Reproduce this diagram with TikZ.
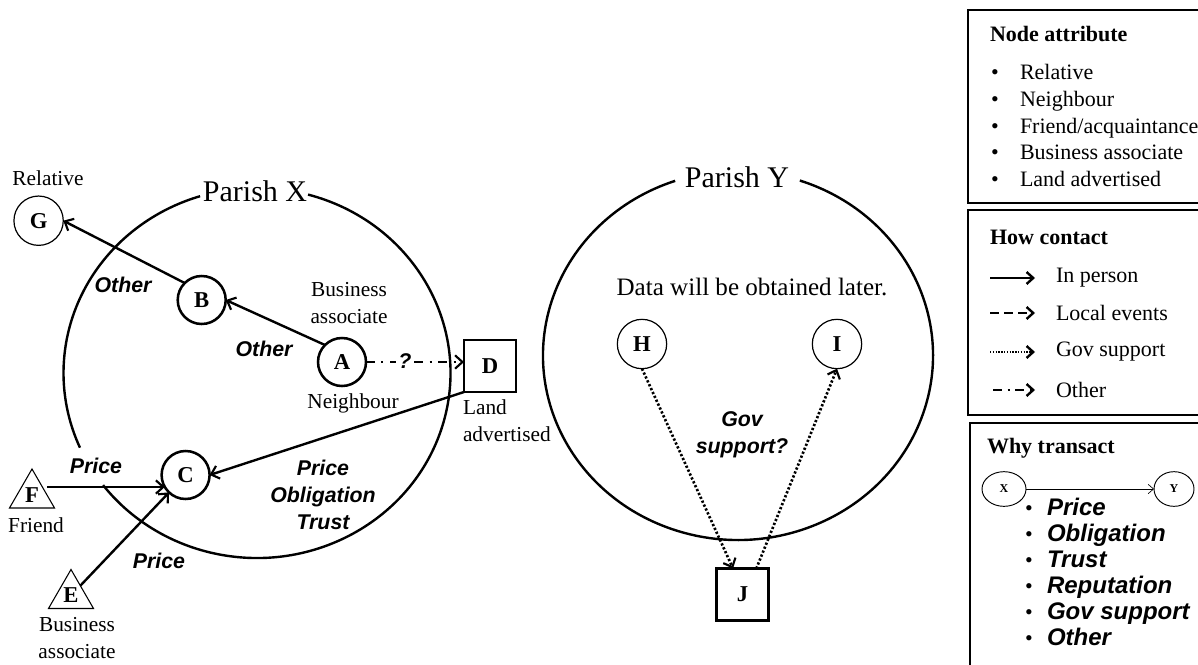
\documentclass[tikz,border=0pt]{standalone}
\usepackage{fontspec}
\setmainfont{Liberation Serif}
\newfontfamily\labfont{Liberation Sans}
\usetikzlibrary{arrows.meta,shapes.geometric}

\begin{document}
\begin{tikzpicture}[x=0.75pt,y=-0.75pt,
  every node/.style={inner sep=0pt, outer sep=0pt},
  lbl/.style={font=\fontsize{16}{20}\selectfont, align=center},
  big/.style={font=\fontsize{22.5}{24}\selectfont},
  note/.style={font=\fontsize{18.8}{22}\selectfont},
  reason/.style={font=\labfont\bfseries\itshape\fontsize{16}{20.5}\selectfont, align=center},
  lgd/.style={font=\fontsize{16.5}{19}\selectfont, anchor=west},
  lgditem/.style={font=\fontsize{16.5}{19}\selectfont, anchor=base west},
  lgdhead/.style={font=\bfseries\fontsize{16.5}{19}\selectfont, anchor=west},
  lgdreason/.style={font=\labfont\bfseries\itshape\fontsize{18}{20}\selectfont, anchor=base west},
  bul/.style={font=\fontsize{16.5}{19}\selectfont, anchor=base},
  letter/.style={font=\bfseries\fontsize{17}{17}\selectfont},
  actor/.style={circle, draw, line width=1.9pt, minimum size=36pt, letter},
  contact/.style={circle, draw, line width=0.9pt, minimum size=37pt, letter},
  landbox/.style={rectangle, draw, line width=1.9pt, minimum size=39pt, letter},
  outsider/.style={regular polygon, regular polygon sides=3, draw, line width=0.8pt, minimum size=39pt, letter},
  smallnode/.style={ellipse, draw, line width=0.7pt, font=\bfseries\fontsize{9}{9}\selectfont},
  parish/.style={line width=1.8pt},
  frame/.style={line width=1.1pt},
  tip/.style={-{Straight Barb[length=5.5pt,width=10pt,line width=1.6pt]}},
  inperson/.style={line width=1.8pt, tip},
  othertie/.style={line width=1.8pt, tip, dash pattern=on 6.5pt off 5pt on 1.6pt off 5pt},
  govtie/.style={line width=2pt, tip, dash pattern=on 1.7pt off 1.5pt},
  keyin/.style={line width=1.6pt, -{Straight Barb[length=5pt,width=9pt,line width=1.8pt]}},
]
\useasboundingbox (0,0) rectangle (1198,664);
\clip (0,0) rectangle (1198,664);

% ---------- Parish X ----------
\draw[parish] (257,373) ++(-74.7:193.5 and 185)
  arc[start angle=-74.7, end angle=142.7, x radius=193.5, y radius=185];
\draw[parish] (257,373) ++(156.2:193.5 and 185)
  arc[start angle=156.2, end angle=252.9, x radius=193.5, y radius=185];
\node[big] (px) at (255,191) {Parish X};

\node[contact] (G) at (38.6,220.7) {G};
\node[lbl] (relG) at (48,178) {Relative};
\node[actor] (B) at (201.7,300) {B};
\node[actor] (A) at (342,362) {A};
\node[lbl] (bizA) at (349,303) {Business\\associate};
\node[lbl] (nbA) at (353,403) {Neighbour};
\node[actor] (C) at (185.6,475) {C};
\node[landbox] (D) at (490,366) {D};
\node[lbl, align=left, anchor=north west] (landD) at (463,400) {Land\\advertised};
\node[outsider] (F) at (32,495) {F};
\node[lbl] (frF) at (36,525) {Friend};
\node[outsider] (E) at (71,595.5) {E};
\node[lbl] (bizE) at (77,638) {Business\\associate};

% ties inside and around Parish X
\draw[inperson] (B.north west) -- (G.east);
\draw[inperson] (A.north west) -- (B.east);
\draw[othertie] (A.east) -- (A.east -| D.west);
\node[reason, fill=white, inner sep=2pt] (qAD) at (405,361.5) {?};
\draw[inperson] (D.south west) -- (C.east);
\draw[inperson] (F.east |- C.210) -- (C.210);
\draw[inperson] (E) -- (C);

\node[reason] (oBG) at (123,285) {Other};
\node[reason] (oAB) at (264,349) {Other};
\node[reason] (pFC) at (96,466) {Price};
\node[reason] (pDC) at (323,495) {Price\\Obligation\\Trust};
\node[reason] (pEC) at (159,561) {Price};

% ---------- Parish Y ----------
\draw[parish] (738,355.5) ++(-71.5:195 and 184.5)
  arc[start angle=-71.5, end angle=251.2, x radius=195, y radius=184.5];
\node[big] (py) at (737,177) {Parish Y};
\node[note] (later) at (752,287) {Data will be obtained later.};

\node[contact] (H) at (642,344) {H};
\node[contact] (I) at (837,344) {I};
\node[landbox] (J) at (742.5,594.5) {J};
\draw[govtie] (H.south) -- (J.110.7);
\draw[govtie] (J.62) -- (I.south);
\node[reason] (gov) at (742,435) {Gov\\support?};

% ---------- Legend: node attribute ----------
\draw[frame] (968,10) rectangle (1215,203);
\node[lgdhead] (hNA) at (990,34) {Node attribute};
\foreach \y/\t [count=\k] in {73/Relative,100/Neighbour,127/{Friend/acquaintance},153/Business associate,180/Land advertised}{
  \node[bul] (na\k b) at (995,\y+6) {\textbullet};
  \node[lgditem] (na\k) at (1020,\y+6) {\t};
}

% ---------- Legend: how contact ----------
\draw[frame] (968,210) rectangle (1215,415);
\node[lgdhead] (hHC) at (990,237) {How contact};
\coordinate (k1s) at (990,278); \coordinate (k1e) at (1035,278);
\coordinate (k2s) at (990,313); \coordinate (k2e) at (1035,313);
\coordinate (k3s) at (990,352); \coordinate (k3e) at (1035,352);
\coordinate (k4s) at (993,390); \coordinate (k4e) at (1035,390);
\draw[keyin] (k1s) -- (k1e);
\draw[keyin, dash pattern=on 6.5pt off 4pt] (k2s) -- (k2e);
\draw[keyin, line width=1.2pt, dash pattern=on 1pt off 1.1pt] (k3s) -- (k3e);
\draw[keyin, dash pattern=on 7pt off 4pt on 1.6pt off 4pt] (k4s) -- (k4e);
\node[lgd] (k1) at (1056,278) {In person};
\node[lgd] (k2) at (1056,313) {Local events};
\node[lgd] (k3) at (1056,352) {Gov support};
\node[lgd] (k4) at (1056,390) {Other};

% ---------- Legend: why transact ----------
\draw[frame] (970,423) rectangle (1215,690);
\node[lgdhead] (hWT) at (987,448) {Why transact};
\node[smallnode, minimum width=33pt, minimum height=26pt] (lx) at (1004,489) {X};
\node[smallnode, minimum width=30pt, minimum height=26pt] (ly) at (1174,489) {Y};
\draw[line width=0.5pt, -{Straight Barb[length=4pt,width=7pt,line width=0.5pt]}] (lx) -- (ly);
\foreach \y/\t [count=\k] in {509/Price,535/Obligation,561/Trust,587/Reputation,613/Gov support,639/Other}{
  \node[bul] (wt\k b) at (1029,\y+6.5) {\textbullet};
  \node[lgdreason] (wt\k) at (1047,\y+6.5) {\t};
}
\end{tikzpicture}
\end{document}
